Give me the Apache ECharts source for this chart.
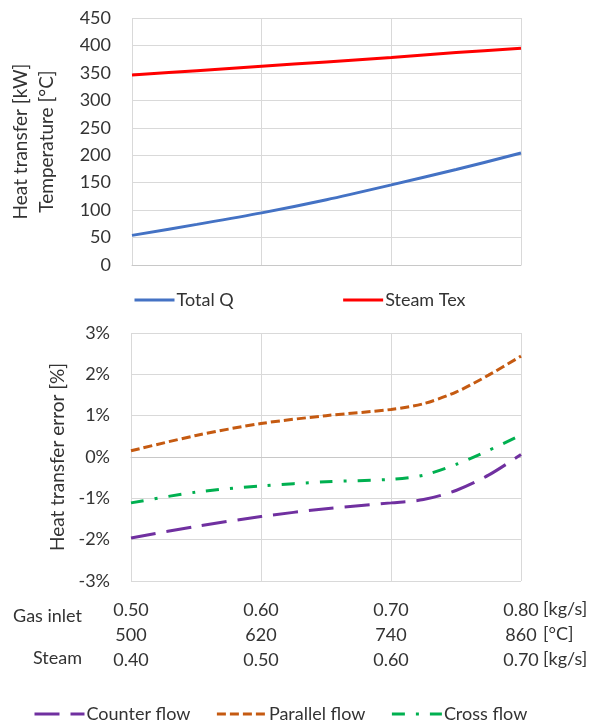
<!DOCTYPE html>
<html>
<head>
<meta charset="utf-8">
<script src="https://cdn.jsdelivr.net/npm/echarts@6/dist/echarts.min.js"></script>
<style>
  html, body { margin: 0; padding: 0; background: #fff; }
  #chart { width: 601px; height: 721px; }
</style>
</head>
<body>
<div id="chart"></div>
<script>
// top chart: heat transfer and steam exit temperature
const topX = [0.5, 0.55, 0.6, 0.65, 0.7, 0.75, 0.8];
const totalQ = [54, 74, 95, 119, 146, 174, 204];
const steamTex = [346, 354, 362, 370, 378, 387, 395];

// bottom chart: heat transfer error [%]
const errX = [0.5, 0.55, 0.6, 0.65, 0.7, 0.725, 0.75, 0.775, 0.8];
const counterFlow = [-1.96, -1.68, -1.44, -1.25, -1.11, -1.03, -0.81, -0.44, 0.06];
const parallelFlow = [0.15, 0.52, 0.81, 1.0, 1.15, 1.29, 1.57, 1.98, 2.44];
const crossFlow = [-1.11, -0.85, -0.7, -0.6, -0.54, -0.44, -0.18, 0.16, 0.53];

// x tick label rows
const gasFlowLabels = ['0.50', '0.60', '0.70', '0.80'];
const gasTempLabels = ['500', '620', '740', '860'];
const steamFlowLabels = ['0.40', '0.50', '0.60', '0.70'];
const rowUnits = ['[kg/s]', '[°C]', '[kg/s]'];

const font = 'Lato, "Open Sans", sans-serif';
const textColor = '#333';
const gridColor = '#d9d9d9';

const pairs = (xs, ys) => xs.map((x, i) => [x, ys[i]]);
const tickIndex = v => Math.round((v - 0.5) / 0.1);

const chart = echarts.init(document.getElementById('chart'), null, { renderer: 'canvas' });

const xCommon = {
  type: 'value',
  min: 0.5,
  max: 0.8,
  interval: 0.1,
  axisTick: { show: false },
  axisLine: { show: true, lineStyle: { color: '#c8c8c8', width: 1 } },
  splitLine: { show: true, lineStyle: { color: gridColor, width: 1 } }
};

const legendText = { fontFamily: font, fontSize: 18, color: textColor, padding: [0, 0, 0, -3] };

const option = {
  backgroundColor: '#fff',
  animation: false,
  textStyle: { fontFamily: font, color: textColor },
  grid: [
    { left: 131, right: 80, top: 18, height: 247 },
    { left: 131, right: 80, top: 333, height: 248 }
  ],
  legend: [
    {
      data: ['Total Q', 'Steam Tex'],
      left: 133,
      top: 291,
      padding: 0,
      itemWidth: 40,
      itemHeight: 14,
      itemGap: 108,
      itemStyle: { opacity: 0 },
      lineStyle: { width: 3 },
      textStyle: legendText
    },
    {
      data: ['Counter flow', 'Parallel flow', 'Cross flow'],
      left: 33,
      top: 705,
      padding: 0,
      itemWidth: 50,
      itemHeight: 14,
      itemGap: 25,
      itemStyle: { opacity: 0 },
      lineStyle: { width: 3 },
      textStyle: legendText
    }
  ],
  xAxis: [
    Object.assign({ gridIndex: 0, axisLabel: { show: false } }, xCommon),
    Object.assign({
      gridIndex: 1,
      axisLabel: {
        margin: 17,
        fontFamily: font,
        fontSize: 18,
        color: textColor,
        lineHeight: 25,
        formatter: v => {
          const i = tickIndex(v);
          return gasFlowLabels[i] + '\n' + gasTempLabels[i] + '\n' + steamFlowLabels[i];
        }
      }
    }, xCommon)
  ],
  yAxis: [
    {
      type: 'value',
      gridIndex: 0,
      min: 0,
      max: 450,
      interval: 50,
      name: 'Heat transfer [kW]\nTemperature [°C]',
      nameLocation: 'middle',
      nameGap: 72,
      nameTextStyle: { fontFamily: font, fontSize: 19, color: textColor, lineHeight: 26 },
      axisTick: { show: false },
      axisLine: { show: false },
      axisLabel: { margin: 21, fontFamily: font, fontSize: 18, color: textColor },
      splitLine: { lineStyle: { color: gridColor, width: 1 } }
    },
    {
      type: 'value',
      gridIndex: 1,
      min: -3,
      max: 3,
      interval: 1,
      name: 'Heat transfer error [%]',
      nameLocation: 'middle',
      nameGap: 54,
      nameTextStyle: { fontFamily: font, fontSize: 19, color: textColor },
      axisTick: { show: false },
      axisLine: { show: false },
      axisLabel: { margin: 21, fontFamily: font, fontSize: 18, color: textColor, formatter: '{value}%' },
      splitLine: { lineStyle: { color: gridColor, width: 1 } }
    }
  ],
  graphic: [
    {
      type: 'text',
      right: 519,
      top: 607,
      style: { text: 'Gas inlet', font: '18px ' + font, fill: textColor }
    },
    {
      type: 'text',
      right: 519,
      top: 649,
      style: { text: 'Steam', font: '18px ' + font, fill: textColor }
    },
    {
      type: 'text',
      left: 543,
      top: 597,
      style: {
        text: rowUnits.join('\n'),
        font: '18px ' + font,
        lineHeight: 25,
        fill: textColor
      }
    }
  ],
  series: [
    {
      name: 'Total Q',
      type: 'line',
      xAxisIndex: 0,
      yAxisIndex: 0,
      data: pairs(topX, totalQ),
      smooth: 0.3,
      symbol: 'none',
      lineStyle: { color: '#4472C4', width: 3 },
      itemStyle: { color: '#4472C4' }
    },
    {
      name: 'Steam Tex',
      type: 'line',
      xAxisIndex: 0,
      yAxisIndex: 0,
      data: pairs(topX, steamTex),
      smooth: 0.3,
      symbol: 'none',
      lineStyle: { color: '#FF0000', width: 3 },
      itemStyle: { color: '#FF0000' }
    },
    {
      name: 'Counter flow',
      type: 'line',
      xAxisIndex: 1,
      yAxisIndex: 1,
      data: pairs(errX, counterFlow),
      smooth: 0.3,
      symbol: 'none',
      lineStyle: { color: '#7030A0', width: 3, type: [25, 11] },
      itemStyle: { color: '#7030A0' }
    },
    {
      name: 'Parallel flow',
      type: 'line',
      xAxisIndex: 1,
      yAxisIndex: 1,
      data: pairs(errX, parallelFlow),
      smooth: 0.3,
      symbol: 'none',
      lineStyle: { color: '#C55A11', width: 3, type: [9, 4] },
      itemStyle: { color: '#C55A11' }
    },
    {
      name: 'Cross flow',
      type: 'line',
      xAxisIndex: 1,
      yAxisIndex: 1,
      data: pairs(errX, crossFlow),
      smooth: 0.3,
      symbol: 'none',
      lineStyle: { color: '#00B050', width: 3, type: [13, 11, 3, 11] },
      itemStyle: { color: '#00B050' }
    }
  ]
};

chart.setOption(option);
</script>
</body>
</html>
